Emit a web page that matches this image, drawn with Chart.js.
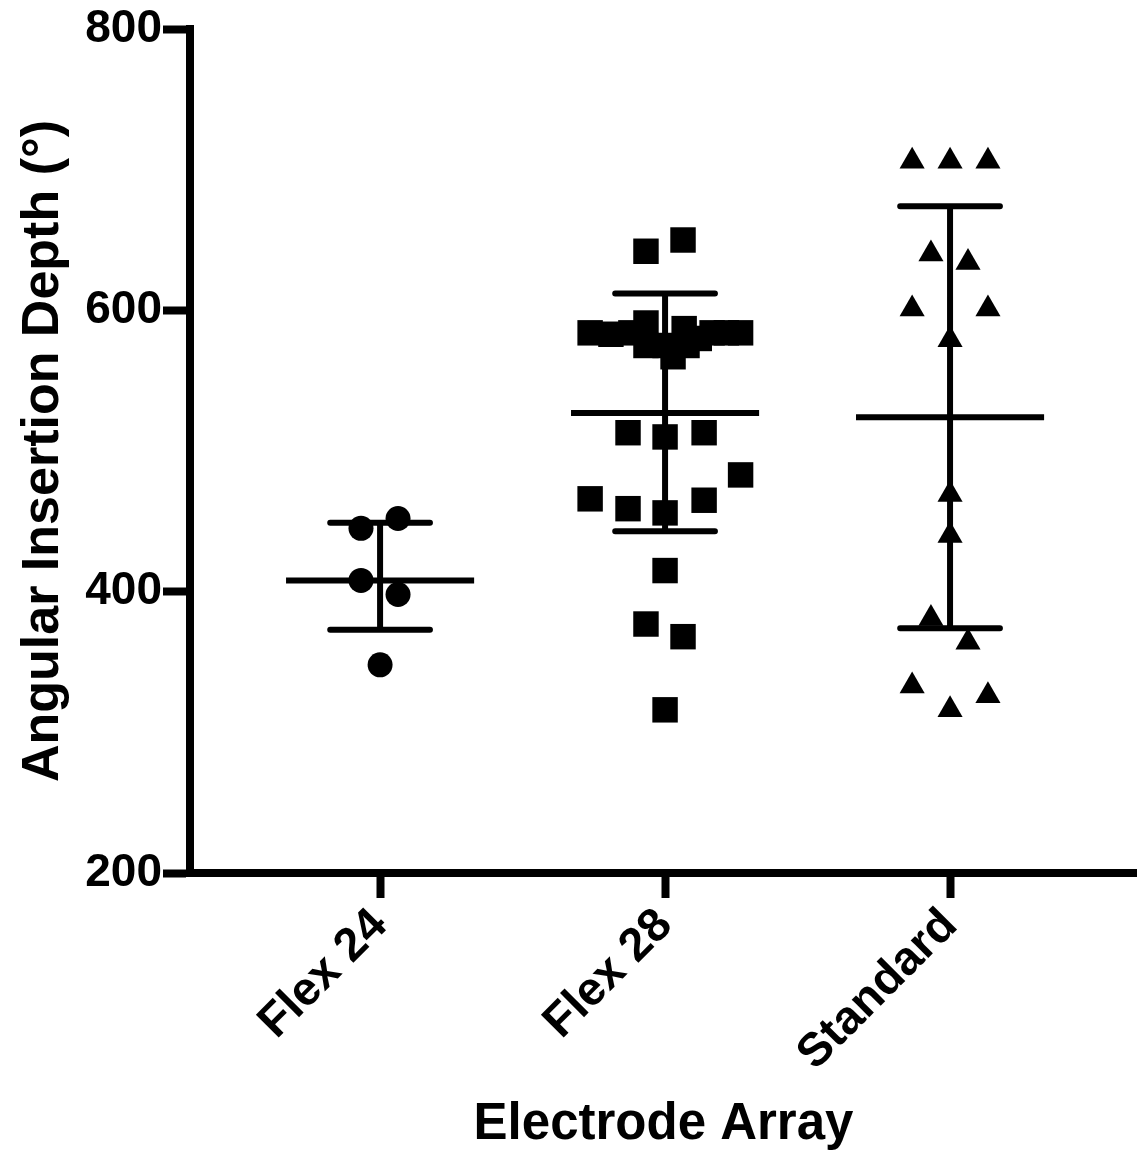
<!DOCTYPE html>
<html>
<head>
<meta charset="utf-8">
<script src="https://cdn.jsdelivr.net/npm/chart.js@4/dist/chart.umd.min.js"></script>
<style>
  body { margin: 0; background: #fff; }
  #wrap { width: 1137px; height: 1160px; }
</style>
</head>
<body>
<div id="wrap"><canvas id="chart" width="1137" height="1160"></canvas></div>
<script>
// categories and tick labels
const categories = ["Flex 24", "Flex 28", "Standard"];
const yTicks = [200, 400, 600, 800];

// individual insertion depths (degrees), with horizontal spread in category units
const flex24Values = [445, 452, 408, 398, 348];
const flex24Spread = [-0.067, 0.063, -0.067, 0.063, 0];

const flex28Values = [642, 650, 591, 587, 584, 583, 584, 584, 584, 584, 580, 575, 575, 575, 567,
                      513, 510, 513, 483, 466, 459, 456, 465, 415, 377, 368, 316];
const flex28Spread = [-0.067, 0.063, -0.067, 0.067, -0.263, -0.19, -0.12, 0.165, 0.215, 0.265, 0.12, -0.067, 0, 0.077, 0.028,
                      -0.13, 0, 0.137, 0.265, -0.263, -0.13, 0, 0.137, 0, -0.067, 0.063, 0];

const standardValues = [706, 706, 706, 640, 634, 601, 601, 579, 469, 440, 381, 364, 333, 316, 326];
const standardSpread = [-0.133, 0, 0.133, -0.067, 0.063, -0.133, 0.133, 0, 0, 0, -0.067, 0.063, -0.133, 0, 0.133];

// mean and error bar ends per group
const groupMeans = [408, 527, 524];
const errorLow = [373, 443, 374];
const errorHigh = [449, 612, 674];

const FONT = "'Liberation Sans', Arial, Helvetica, sans-serif";
const MEAN_HALF = 0.33;
const CAP_HALF = 0.175;

const toPoints = (values, spread, idx) => values.map((v, i) => ({ x: idx + spread[i], y: v }));

// mean lines: one segment per group, broken by null points
const meanData = [];
groupMeans.forEach((m, i) => {
    meanData.push({ x: i - MEAN_HALF, y: m }, { x: i + MEAN_HALF, y: m }, { x: i, y: null });
});

// error bars: upper cap, stem, lower cap
const errData = [];
groupMeans.forEach((m, i) => {
    errData.push({ x: i - CAP_HALF, y: errorHigh[i] }, { x: i + CAP_HALF, y: errorHigh[i] }, { x: i, y: null });
    errData.push({ x: i, y: errorHigh[i] }, { x: i, y: errorLow[i] }, { x: i, y: null });
    errData.push({ x: i - CAP_HALF, y: errorLow[i] }, { x: i + CAP_HALF, y: errorLow[i] }, { x: i, y: null });
});

const pointSet = (data, style, radius) => ({
    type: "scatter",
    data,
    pointStyle: style,
    pointRadius: radius,
    pointHoverRadius: radius,
    backgroundColor: "#000",
    borderWidth: 0
});

const lineSet = (data, cap) => ({
    type: "line",
    data,
    showLine: true,
    spanGaps: false,
    pointRadius: 0,
    borderColor: "#000",
    borderWidth: 6,
    borderCapStyle: cap,
    fill: false
});

const ctx = document.getElementById("chart").getContext("2d");
new Chart(ctx, {
    data: {
        datasets: [
            lineSet(meanData, "butt"),
            lineSet(errData, "round"),
            pointSet(toPoints(flex24Values, flex24Spread, 0), "circle", 12.5),
            pointSet(toPoints(flex28Values, flex28Spread, 1), "rect", 18),
            pointSet(toPoints(standardValues, standardSpread, 2), "triangle", 14.5)
        ]
    },
    options: {
        responsive: false,
        devicePixelRatio: 1,
        animation: false,
        layout: { autoPadding: false, padding: { top: 29, left: 0, right: 0, bottom: 0 } },
        plugins: { legend: { display: false }, tooltip: { enabled: false } },
        scales: {
            x: {
                type: "linear",
                min: -0.667,
                max: 2.656,
                afterBuildTicks: s => { s.ticks = categories.map((c, i) => ({ value: i })); },
                afterFit: s => { s.height = 287; s.paddingLeft = 0; s.paddingRight = 0; },
                border: { display: true, width: 8, color: "#000" },
                grid: { drawOnChartArea: false, drawTicks: true, tickLength: 25, tickWidth: 8, tickColor: "#000", color: "#000" },
                ticks: {
                    color: "#000",
                    font: { family: FONT, size: 47, weight: "bold" },
                    minRotation: 45,
                    maxRotation: 45,
                    padding: 0,
                    callback: v => categories[v]
                },
                title: {
                    display: true,
                    text: "Electrode Array",
                    color: "#000",
                    font: { family: FONT, size: 51, weight: "bold" },
                    padding: { top: 0, bottom: 4 }
                }
            },
            y: {
                type: "linear",
                min: 200,
                max: 800,
                afterBuildTicks: s => { s.ticks = yTicks.map(v => ({ value: v })); },
                afterFit: s => { s.width = 190; },
                border: { display: true, width: 8, color: "#000" },
                grid: { drawOnChartArea: false, drawTicks: true, tickLength: 27, tickWidth: 8, tickColor: "#000", color: "#000" },
                ticks: {
                    color: "#000",
                    font: { family: FONT, size: 46, weight: "bold" },
                    padding: 1
                },
                title: {
                    display: true,
                    text: "Angular Insertion Depth (°)",
                    color: "#000",
                    font: { family: FONT, size: 52, weight: "bold" },
                    padding: { top: 12, bottom: 0 }
                }
            }
        }
    }
});
</script>
</body>
</html>
